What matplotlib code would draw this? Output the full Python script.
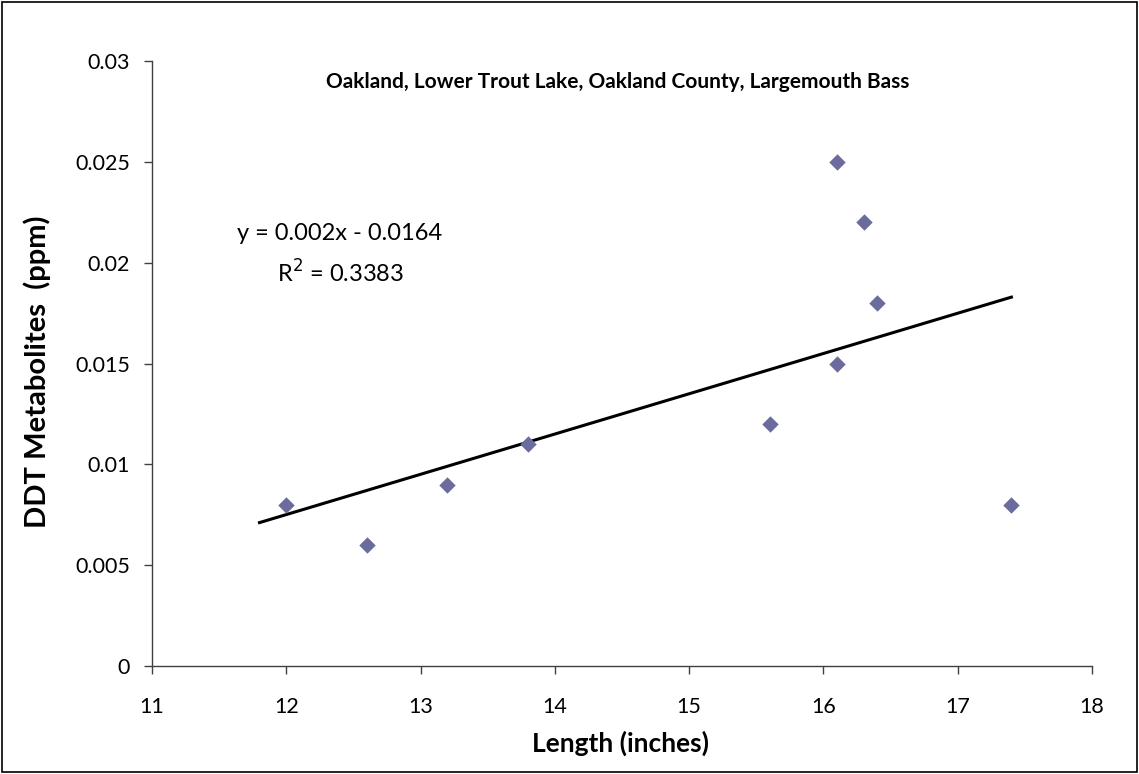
import numpy as np
import matplotlib
matplotlib.use("Agg")
import matplotlib.pyplot as plt
from matplotlib.patches import Rectangle

plt.rcParams['font.family'] = ['Lato', 'DejaVu Sans']

# data
length_in = [12.0, 12.6, 13.2, 13.8, 15.6, 16.1, 16.1, 16.3, 16.4, 17.4]
ddt_ppm = [0.008, 0.006, 0.009, 0.011, 0.012, 0.025, 0.015, 0.022, 0.018, 0.008]
trend_x = [11.8, 17.4]
x_ticks = [11, 12, 13, 14, 15, 16, 17, 18]
y_ticks = [0, 0.005, 0.01, 0.015, 0.02, 0.025, 0.03]
y_ticklabels = ['0', '0.005', '0.01', '0.015', '0.02', '0.025', '0.03']

fig = plt.figure(figsize=(11.39, 7.74), dpi=100)
ax = fig.add_axes([0.1335, 0.1395, 0.8252, 0.7817])

# outer chart frame
fig.patches.append(Rectangle((0.002, 0.002), 0.996, 0.996, transform=fig.transFigure,
                             fill=False, edgecolor='black', linewidth=1.2))

ax.scatter(length_in, ddt_ppm, marker='D', s=70, color='#6B6B9E', zorder=3, linewidths=0)

# linear trendline
slope, intercept = np.polyfit(length_in, ddt_ppm, 1)
tx = np.array(trend_x)
ax.plot(tx, slope * tx + intercept, color='black', linewidth=2.2, zorder=2)

ax.set_xlim(11, 18)
ax.set_ylim(0, 0.03)
ax.set_xticks(x_ticks)
ax.set_yticks(y_ticks)
ax.set_yticklabels(y_ticklabels)
ax.tick_params(axis='both', direction='out', length=6, width=1, color='#404040',
               labelsize=15.5)
ax.tick_params(axis='x', pad=16)
ax.tick_params(axis='y', pad=10)

for side in ['top', 'right']:
    ax.spines[side].set_visible(False)
for side in ['left', 'bottom']:
    ax.spines[side].set_color('#404040')
    ax.spines[side].set_linewidth(1)

fig.text(0.542, 0.894, "Oakland, Lower Trout Lake, Oakland County, Largemouth Bass",
         fontsize=15, fontweight='bold', ha='center', va='center')
fig.text(0.545, 0.039, "Length (inches)", fontsize=19, fontweight='bold',
         ha='center', va='center')
fig.text(0.033, 0.52, "DDT Metabolites  (ppm)", fontsize=21, fontweight='bold',
         ha='center', va='center', rotation=90)

ax.text(12.4, 0.02147, "y = 0.002x - 0.0164", fontsize=17, ha='center', va='center')
ax.text(12.4, 0.01949, "R$^2$ = 0.3383", fontsize=17, ha='center', va='center')

fig.savefig("out.png", dpi=100)
